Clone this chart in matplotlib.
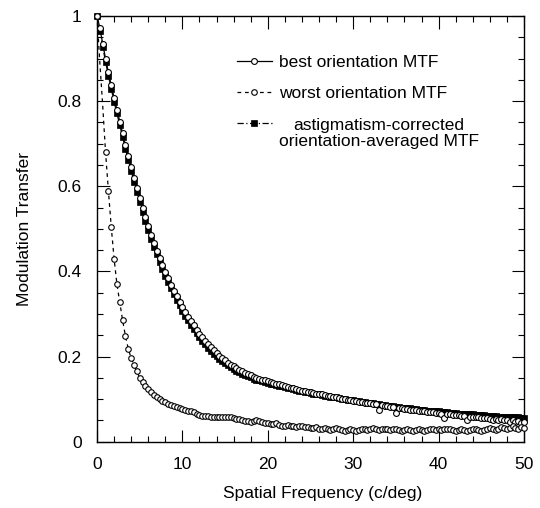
import numpy as np
import matplotlib
matplotlib.use("Agg")
import matplotlib.pyplot as plt
from matplotlib.ticker import MultipleLocator, FixedLocator, FixedFormatter

plt.rcParams['font.family'] = ['Liberation Sans', 'DejaVu Sans']

# sampling step of the measured MTFs (c/deg)
step = 1.0 / 3.0

best = [
    1.000, 0.972, 0.935, 0.900, 0.868, 0.838, 0.808, 0.780, 0.752, 0.724,
    0.697, 0.671, 0.645, 0.620, 0.596, 0.572, 0.549, 0.527, 0.506, 0.486,
    0.467, 0.449, 0.432, 0.415, 0.399, 0.384, 0.369, 0.355, 0.342, 0.329,
    0.317, 0.305, 0.294, 0.283, 0.273, 0.263, 0.254, 0.245, 0.237, 0.229,
    0.222, 0.215, 0.208, 0.202, 0.196, 0.191, 0.186, 0.181, 0.177, 0.173,
    0.169, 0.165, 0.162, 0.159, 0.156, 0.153, 0.150, 0.148, 0.146, 0.144,
    0.142, 0.140, 0.138, 0.136, 0.135, 0.133, 0.131, 0.129, 0.127, 0.126,
    0.124, 0.122, 0.120, 0.119, 0.117, 0.116, 0.115, 0.113, 0.112, 0.111,
    0.109, 0.108, 0.107, 0.105, 0.104, 0.103, 0.101, 0.100, 0.099, 0.097,
    0.096, 0.095, 0.094, 0.093, 0.092, 0.091, 0.090, 0.089, 0.088, 0.075,
    0.086, 0.085, 0.083, 0.082, 0.081, 0.068, 0.079, 0.078, 0.077, 0.076,
    0.075, 0.075, 0.074, 0.073, 0.072, 0.071, 0.070, 0.070, 0.069, 0.068,
    0.067, 0.066, 0.055, 0.065, 0.064, 0.063, 0.063, 0.062, 0.061, 0.061,
    0.051, 0.059, 0.058, 0.058, 0.057, 0.056, 0.055, 0.055, 0.054, 0.052,
    0.054, 0.051, 0.053, 0.050, 0.052, 0.047, 0.051, 0.046, 0.049, 0.043,
    0.047,
]

averaged = [
    1.000, 0.965, 0.928, 0.893, 0.860, 0.829, 0.799, 0.771, 0.743, 0.715,
    0.688, 0.662, 0.636, 0.611, 0.587, 0.563, 0.540, 0.518, 0.497, 0.477,
    0.458, 0.440, 0.423, 0.406, 0.390, 0.375, 0.360, 0.346, 0.333, 0.320,
    0.308, 0.296, 0.285, 0.274, 0.264, 0.255, 0.246, 0.237, 0.229, 0.221,
    0.214, 0.207, 0.201, 0.195, 0.189, 0.184, 0.179, 0.175, 0.171, 0.167,
    0.163, 0.160, 0.157, 0.154, 0.151, 0.148, 0.146, 0.144, 0.142, 0.140,
    0.138, 0.136, 0.135, 0.133, 0.131, 0.130, 0.128, 0.127, 0.125, 0.123,
    0.122, 0.120, 0.119, 0.117, 0.116, 0.115, 0.113, 0.112, 0.111, 0.110,
    0.108, 0.107, 0.106, 0.105, 0.104, 0.102, 0.101, 0.100, 0.099, 0.098,
    0.097, 0.096, 0.095, 0.094, 0.093, 0.092, 0.091, 0.090, 0.089, 0.088,
    0.087, 0.086, 0.085, 0.084, 0.083, 0.082, 0.081, 0.080, 0.079, 0.078,
    0.078, 0.077, 0.076, 0.075, 0.075, 0.074, 0.073, 0.073, 0.072, 0.071,
    0.071, 0.070, 0.069, 0.069, 0.068, 0.067, 0.067, 0.066, 0.066, 0.065,
    0.065, 0.064, 0.064, 0.063, 0.063, 0.062, 0.062, 0.061, 0.061, 0.060,
    0.060, 0.059, 0.059, 0.059, 0.058, 0.058, 0.057, 0.057, 0.057, 0.056,
    0.056,
]

worst = [
    1.000, 0.890, 0.790, 0.680, 0.590, 0.505, 0.430, 0.370, 0.328, 0.285,
    0.248, 0.218, 0.196, 0.180, 0.165, 0.150, 0.140, 0.131, 0.123, 0.116,
    0.110, 0.105, 0.100, 0.096, 0.093, 0.089, 0.086, 0.084, 0.081, 0.079,
    0.077, 0.075, 0.073, 0.071, 0.069, 0.066, 0.063, 0.061, 0.060, 0.060,
    0.059, 0.058, 0.058, 0.057, 0.057, 0.058, 0.059, 0.058, 0.056, 0.054,
    0.053, 0.051, 0.049, 0.048, 0.047, 0.048, 0.050, 0.049, 0.047, 0.045,
    0.043, 0.042, 0.041, 0.043, 0.040, 0.038, 0.037, 0.039, 0.038, 0.036,
    0.035, 0.037, 0.036, 0.034, 0.035, 0.033, 0.032, 0.034, 0.031, 0.030,
    0.032, 0.029, 0.028, 0.030, 0.033, 0.031, 0.028, 0.026, 0.027, 0.029,
    0.027, 0.026, 0.028, 0.031, 0.030, 0.027, 0.029, 0.032, 0.030, 0.028,
    0.030, 0.031, 0.029, 0.027, 0.029, 0.030, 0.028, 0.026, 0.028, 0.030,
    0.027, 0.025, 0.027, 0.029, 0.028, 0.026, 0.028, 0.030, 0.029, 0.027,
    0.029, 0.028, 0.030, 0.031, 0.029, 0.027, 0.026, 0.028, 0.029, 0.027,
    0.025, 0.027, 0.029, 0.030, 0.028, 0.026, 0.028, 0.031, 0.033, 0.030,
    0.028, 0.031, 0.034, 0.032, 0.030, 0.033, 0.036, 0.032, 0.030, 0.034,
    0.033,
]

freq = np.arange(len(best)) * step

x_ticks = [0, 10, 20, 30, 40, 50]
x_tick_labels = ["0", "10", "20", "30", "40", "50"]
y_ticks = [0, 0.2, 0.4, 0.6, 0.8, 1.0]
y_tick_labels = ["0", "0.2", "0.4", "0.6", "0.8", "1"]

labels = ["best orientation MTF", "worst orientation MTF",
          "astigmatism-corrected\norientation-averaged MTF"]

FS = 12.5

fig = plt.figure(figsize=(5.4, 5.08), dpi=100)
ax = fig.add_axes([97 / 540, 1 - 441.7 / 508, 427 / 540, 425.7 / 508])

# markers of the steep initial part of the worst curve are hidden by its dashes
worst_marks = [0] + list(range(3, len(worst)))

l_best, = ax.plot(freq, best, color='black', lw=0.9, ls='-',
                  marker='o', ms=4.2, mfc='white', mec='black', mew=0.8,
                  clip_on=False, zorder=3)
l_avg, = ax.plot(freq, averaged, color='black', lw=0.9, ls=(0, (5, 2, 1, 2)),
                 marker='s', ms=3.8, mfc='black', mec='black', mew=0.5,
                 clip_on=False, zorder=2)
l_worst, = ax.plot(freq, worst, color='black', lw=0.9, ls=(0, (3, 3)),
                   marker='o', ms=4.0, mfc='white', mec='black', mew=0.8,
                   markevery=worst_marks, clip_on=False, zorder=4)

ax.set_xlim(0, 50)
ax.set_ylim(0, 1)
ax.xaxis.set_major_locator(FixedLocator(x_ticks))
ax.xaxis.set_major_formatter(FixedFormatter(x_tick_labels))
ax.xaxis.set_minor_locator(MultipleLocator(2))
ax.yaxis.set_major_locator(FixedLocator(y_ticks))
ax.yaxis.set_major_formatter(FixedFormatter(y_tick_labels))
ax.yaxis.set_minor_locator(MultipleLocator(0.05))

ax.tick_params(which='both', direction='in', top=True, right=True,
               width=0.8, labelsize=FS, pad=11)
ax.tick_params(which='major', length=9)
ax.tick_params(which='minor', length=4.5)
for sp in ax.spines.values():
    sp.set_linewidth(1.0)

ax.set_xlabel("Spatial Frequency (c/deg)", fontsize=FS)
ax.set_ylabel("Modulation Transfer", fontsize=FS)
ax.xaxis.set_label_coords(0.529, -0.103)
ax.yaxis.set_label_coords(-0.152, 0.5)

leg = ax.legend([l_best, l_worst, l_avg],
                [labels[0], labels[1], labels[2].split("\n")[0]],
                loc='upper left', bbox_to_anchor=(0.328, 0.908),
                frameon=False, handlelength=2.0, handletextpad=0.4,
                labelspacing=0.92, borderpad=0, borderaxespad=0,
                numpoints=1, fontsize=FS)
t3 = leg.get_texts()[2]
t3.set_alpha(0.0)
ax.annotate(labels[2], xy=(0, 1), xycoords=t3, ha='left', va='top',
            multialignment='center', linespacing=1.15, fontsize=FS, zorder=6)

fig.savefig("out.png", dpi=100)
